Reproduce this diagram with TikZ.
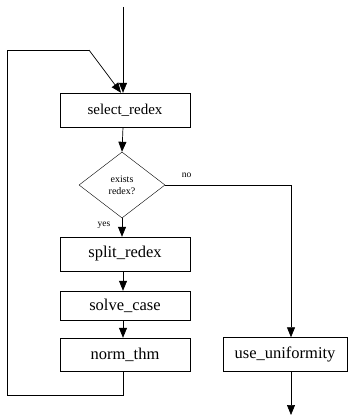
\documentclass[tikz,border=0pt]{standalone}
\usepackage{fontspec}
\setmainfont{Liberation Serif}
\usetikzlibrary{shapes.geometric,arrows.meta}

\begin{document}
\begin{tikzpicture}[
  x=1pt, y=-1pt,
  every node/.style={font=\fontsize{16.5}{18}\selectfont, align=center},
  stepbox/.style={draw, minimum width=130pt, inner sep=0pt},
  test/.style={draw, diamond, minimum width=86pt, minimum height=66pt, inner sep=0pt,
               font=\fontsize{10}{12}\selectfont},
  lbl/.style={font=\fontsize{9.5}{11}\selectfont},
  flow/.style={draw, line width=0.7pt, -{Triangle[length=10pt, width=8pt]}},
  line/.style={draw, line width=0.7pt}
]
  \useasboundingbox (0,0) rectangle (352,417);

  \node[stepbox, minimum height=34pt, font=\fontsize{15}{17}\selectfont] (select) at (125,110) {select\_redex};
  \node[test] (exists) at (122,185) {exists\\redex?};
  \node[stepbox, minimum height=34pt] (split) at (125,254) {split\_redex};
  \node[stepbox, minimum height=29pt] (solve) at (125,305.5) {solve\_case};
  \node[stepbox, minimum height=33pt] (norm) at (125,354.5) {norm\_thm};
  \node[draw, minimum width=124pt, minimum height=34pt, inner sep=0pt] (uniform) at (285,354.5) {use\_uniformity};

  \coordinate (entry) at (123,7);
  \coordinate (exit) at (291,415);
  \coordinate (back) at (123,395);

  % main column
  \draw[flow] (entry) -- (select.north -| entry);
  \draw[flow] (select.south -| entry) -- (exists.north);
  \draw[flow] (exists.south) -- (split.north -| exists.south)
    node[lbl, pos=0.4, left=8pt] {yes};
  \draw[flow] (split.south -| entry) -- (solve.north -| entry);
  \draw[flow] (solve.south -| entry) -- (norm.north -| entry);

  % loop back
  \draw[line] (norm.south -| back) -- (back) -- (7,395) -- (7,50) -- (89,50);
  \draw[flow] (89,50) -- ([xshift=-2pt]select.north -| entry);

  % exit branch
  \draw[flow] (exists.east) -- (291,185) node[lbl, pos=0.17, above=4pt] {no} -- (uniform.north -| exit);
  \draw[flow] (uniform.south -| exit) -- (exit);
\end{tikzpicture}
\end{document}
